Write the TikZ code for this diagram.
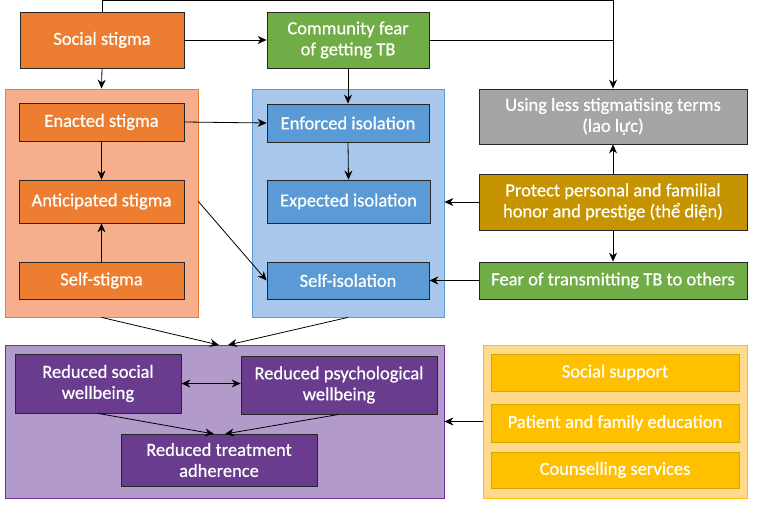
\documentclass[tikz,border=0pt]{standalone}
\usepackage{fontspec}
\setmainfont{Carlito}
\newfontfamily\boxfont{Carlito}[FakeBold=0.6]
\usetikzlibrary{arrows.meta}
\definecolor{orng}{HTML}{ED7D31}
\definecolor{orngbg}{HTML}{F5AF8D}
\definecolor{blu}{HTML}{5B9BD5}
\definecolor{blubg}{HTML}{A8C8EB}
\definecolor{grn}{HTML}{70AD47}
\definecolor{gry}{HTML}{A5A5A5}
\definecolor{gld}{HTML}{C59400}
\definecolor{purp}{HTML}{693C8E}
\definecolor{purpbg}{HTML}{B29ACB}
\definecolor{purpbd}{HTML}{7030A0}
\definecolor{yel}{HTML}{FFC000}
\definecolor{yelbg}{HTML}{FFDA8C}
\definecolor{yelbd}{HTML}{D9A300}
\begin{document}
\begin{tikzpicture}[x=1pt,y=-1pt,
  box/.style={draw=black!85, line width=0.8pt, text=white, align=center,
    font=\boxfont\fontsize{18.5}{21}\selectfont, inner sep=0pt},
  cont/.style={line width=0.8pt, inner sep=0pt},
  arr/.style={-{Stealth[length=9pt,width=8pt]}, line width=0.8pt, black},
  ln/.style={line width=0.8pt, black}]
\useasboundingbox (0,0) rectangle (760,510);
% containers
\node[cont, draw=orng, fill=orngbg, minimum width=193, minimum height=228] (ocont) at (101.5,203) {};
\node[cont, draw=blu, fill=blubg, minimum width=192, minimum height=228] (bcont) at (348,203) {};
\node[cont, draw=purpbd, fill=purpbg, minimum width=439, minimum height=153] (pcont) at (224.5,421.5) {};
\node[cont, draw=yel, fill=yelbg, minimum width=264, minimum height=153] (ycont) at (615,421.5) {};
% top row
\node[box, fill=orng, minimum width=164, minimum height=56] (social) at (102,40) {Social stigma};
\node[box, fill=grn, minimum width=162, minimum height=56] (comm) at (348,40) {Community fear\\of getting TB};
% orange column
\node[box, fill=orng, minimum width=165, minimum height=38] (enacted) at (101.5,122) {Enacted stigma};
\node[box, fill=orng, minimum width=165, minimum height=43] (antic) at (101.5,201.5) {Anticipated stigma};
\node[box, fill=orng, minimum width=165, minimum height=37] (selfst) at (101.5,280.5) {Self-stigma};
% blue column
\node[box, fill=blu, minimum width=162, minimum height=38] (enforced) at (348,123) {Enforced isolation};
\node[box, fill=blu, minimum width=163, minimum height=43] (expected) at (348.5,201.5) {Expected isolation};
\node[box, fill=blu, minimum width=162, minimum height=37] (selfiso) at (348,280.5) {Self-isolation};
% right column
\node[box, fill=gry, minimum width=268, minimum height=55] (gray) at (613,116.5) {Using less stigmatising terms\\(lao lực)};
\node[box, fill=gld, minimum width=268, minimum height=56] (gold) at (613,202) {Protect personal and familial\\honor and prestige (thể diện)};
\node[box, fill=grn, minimum width=268, minimum height=37] (fear) at (613,280.5) {Fear of transmitting TB to others};
% purple
\node[box, fill=purp, minimum width=166, minimum height=59] (rsw) at (98,383.5) {Reduced social\\wellbeing};
\node[box, fill=purp, minimum width=196, minimum height=58] (rpw) at (339,385) {Reduced psychological\\wellbeing};
\node[box, fill=purp, minimum width=196, minimum height=52] (rta) at (219,460) {Reduced treatment\\adherence};
% yellow
\node[box, draw=yelbd, fill=yel, minimum width=248, minimum height=37] (ss) at (615,372.5) {Social support};
\node[box, draw=yelbd, fill=yel, minimum width=248, minimum height=38] (pfe) at (615,423) {Patient and family education};
\node[box, draw=yelbd, fill=yel, minimum width=248, minimum height=36] (cs) at (615,470) {Counselling services};
% coordinates
\coordinate (pa) at (219,345);
\coordinate (pb) at (228,345);
\coordinate (ra) at (214,434);
\coordinate (rb) at (225,434);
% connectors
\draw[arr] (social.north) -- ++(0,-11) -| (gray.north);
\draw[ln] (comm.east) -- (comm.east -| gray.north);
\draw[arr] (social.east) -- (comm.west);
\draw[arr] (social.south) -- (ocont.north);
\draw[arr] (comm.south) -- (enforced.north);
\draw[arr] (enacted.south) -- (antic.north);
\draw[arr] (selfst.north) -- (antic.south);
\draw[arr] (enforced.south) -- (expected.north);
\draw[arr] (enacted.east) -- (enforced.west);
\draw[arr] (ocont.east |- antic.east) -- (selfiso.west);
\draw[arr] (gold.north) -- (gray.south);
\draw[arr] (gold.south) -- (fear.north);
\draw[arr] (gold.west) -- (gold.west -| bcont.east);
\draw[arr] (fear.west) -- (selfiso.east);
\draw[arr] (ocont.south) -- (pa);
\draw[arr] (bcont.south) -- (pb);
\draw[arr, {Stealth[length=9pt,width=8pt]}-{Stealth[length=9pt,width=8pt]}] (rsw.east) -- (rsw.east -| rpw.west);
\draw[arr] (rsw.south) -- (ra);
\draw[arr] (rpw.south) -- (rb);
\draw[arr] (ycont.west) -- (ycont.west -| pcont.east);
\end{tikzpicture}
\end{document}
